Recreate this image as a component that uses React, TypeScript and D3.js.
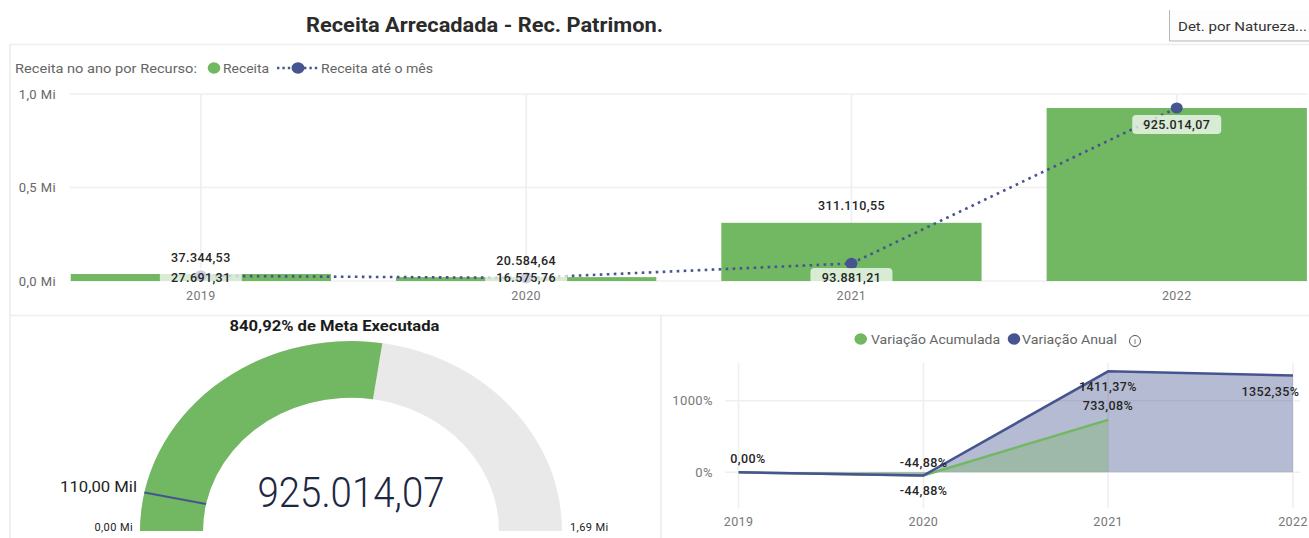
import React from "react";
import * as d3 from "d3";

const years = ["2019", "2020", "2021", "2022"];
const receita = [37344.53, 20584.64, 311110.55, 925014.07];
const receitaAteMes = [27691.31, 16575.76, 93881.21, 925014.07];
const receitaLabels = ["37.344,53", "20.584,64", "311.110,55", ""];
const ateMesLabels = ["27.691,31", "16.575,76", "93.881,21", "925.014,07"];
const topTicks = [0, 500000, 1000000];
const topTickLabels = ["0,0 Mi", "0,5 Mi", "1,0 Mi"];

const gaugeValue = 925014.07;
const gaugeTarget = 110000;
const gaugeMax = 1690000;

const variacaoAnual = [0, -44.88, 1411.37, 1352.35];
const variacaoAcumulada: (number | null)[] = [0, -44.88, 733.08, null];
const varTicks = [0, 1000];
const varTickLabels = ["0%", "1000%"];

const GREEN = "#72B762";
const BLUE = "#46558F";
const GRID = "#EFEFEF";
const FONT = "Roboto, 'Noto Sans', sans-serif";

const Label = ({ x, y, children, size = 12.5, anchor = "middle", fill = "#252525", weight = 500, ls = 0.4, len }: any) => (
  <text
    x={x}
    y={y}
    fontSize={size}
    textAnchor={anchor}
    dominantBaseline="central"
    fill={fill}
    fontWeight={weight}
    letterSpacing={len ? undefined : ls}
    textLength={len}
    lengthAdjust={len ? "spacingAndGlyphs" : undefined}
  >
    {children}
  </text>
);

export default function App() {
  // top chart
  const xBand = d3.scaleBand<string>().domain(years).range([38.2, 1339.4]).paddingInner(0.2).paddingOuter(0.1);
  const yTop = d3.scaleLinear().domain([0, 1000000]).range([281, 94]);
  const cx = (y: string) => xBand(y)! + xBand.bandwidth() / 2;
  const linePath = d3.line<number>().x((_, i) => cx(years[i])).y((d) => yTop(d))(receitaAteMes)!;

  // gauge
  const gaugeAngle = d3.scaleLinear().domain([0, gaugeMax]).range([-Math.PI / 2, Math.PI / 2]);
  const arc = d3.arc().innerRadius(148).outerRadius(211);
  const bgArc = arc({ startAngle: -Math.PI / 2, endAngle: Math.PI / 2 } as any)!;
  const valArc = arc({ startAngle: -Math.PI / 2, endAngle: gaugeAngle(gaugeValue) } as any)!;
  const ta = gaugeAngle(gaugeTarget);

  // variation chart
  const xVar = d3.scalePoint<string>().domain(years).range([738.6, 1293]);
  const yVar = d3.scaleLinear().domain([0, 1000]).range([472.3, 400.7]);
  const areaOf = (vals: (number | null)[]) =>
    d3.area<number | null>().defined((d) => d !== null).x((_, i) => xVar(years[i])!).y0(yVar(0)).y1((d) => yVar(d as number))(vals)!;
  const lineOf = (vals: (number | null)[]) =>
    d3.line<number | null>().defined((d) => d !== null).x((_, i) => xVar(years[i])!).y((d) => yVar(d as number))(vals)!;

  return (
    <svg width={1309} height={538} fontFamily={FONT} style={{ position: "absolute", left: 0, top: 0, display: "block", background: "#fff" }}>
      {/* title and button */}
      <text x={306} y={25} fontSize={19.5} fontWeight={700} fill="#2b2b2b" dominantBaseline="central" textLength={357} lengthAdjust="spacingAndGlyphs">
        Receita Arrecadada - Rec. Patrimon.
      </text>
      <rect x={1169.5} y={10} width={140} height={31} fill="#FDFDFD" />
      <path d="M1169.5 10V41H1309" fill="none" stroke="#B5B5B5" strokeWidth={1} />
      <Label x={1178} y={26} size={13.5} anchor="start" weight={400} fill="#333" len={129}>Det. por Natureza...</Label>

      {/* panel borders */}
      <path d="M10 44.5H1309M10 44.5V538M10 315.5H1309M661 315.5V538" fill="none" stroke="#EDEDED" strokeWidth={1.6} />

      {/* top legend */}
      <Label x={15} y={68.5} size={13} anchor="start" weight={400} fill="#666" len={182}>Receita no ano por Recurso:</Label>
      <ellipse cx={214} cy={68} rx={6.3} ry={5.8} fill={GREEN} />
      <Label x={223} y={68.5} size={13} anchor="start" weight={400} fill="#666" len={46}>Receita</Label>
      <line x1={277} x2={318} y1={68} y2={68} stroke={BLUE} strokeWidth={2.4} strokeDasharray="2.4 3" />
      <ellipse cx={298} cy={68} rx={6.5} ry={5.8} fill={BLUE} />
      <Label x={321} y={68.5} size={13} anchor="start" weight={400} fill="#666" len={112}>Receita até o mês</Label>

      {/* top chart grid */}
      {topTicks.map((t, i) => (
        <g key={t}>
          <line x1={70} x2={1308} y1={yTop(t)} y2={yTop(t)} stroke={GRID} strokeWidth={1.6} />
          <Label x={56} y={yTop(t)} anchor="end" weight={400} fill="#666" size={13}>{topTickLabels[i]}</Label>
        </g>
      ))}
      {years.map((y) => (
        <line key={y} x1={cx(y)} x2={cx(y)} y1={94} y2={281} stroke={GRID} strokeWidth={1.6} />
      ))}

      {/* bars */}
      {years.map((y, i) => (
        <rect key={y} x={xBand(y)} y={yTop(receita[i])} width={xBand.bandwidth()} height={yTop(0) - yTop(receita[i])} fill={GREEN} />
      ))}

      {/* dotted line and markers */}
      <path d={linePath} fill="none" stroke={BLUE} strokeWidth={2.6} strokeDasharray="2.6 4.4" />
      {years.map((y, i) => (
        <ellipse key={y} cx={cx(y)} cy={yTop(receitaAteMes[i])} rx={6} ry={5.6} fill={BLUE} />
      ))}

      {/* data labels */}
      {years.map((y, i) => {
        const inBar = i === 3;
        const ly = inBar ? yTop(receitaAteMes[i]) + 16.5 : 277.5;
        const w = inBar ? 89 : 82;
        return (
          <g key={y}>
            <rect x={cx(y) - w / 2} y={ly - 9.5} width={w} height={19} rx={4} fill="#fff" fillOpacity={0.72} />
            <Label x={cx(y)} y={ly}>{ateMesLabels[i]}</Label>
          </g>
        );
      })}
      {years.map((y, i) =>
        receitaLabels[i] ? (
          <Label key={y} x={cx(y)} y={yTop(receita[i]) - 17}>{receitaLabels[i]}</Label>
        ) : null
      )}
      {years.map((y) => (
        <Label key={y} x={cx(y)} y={295.5} weight={400} fill="#777">{y}</Label>
      ))}

      {/* gauge */}
      <Label x={334.5} y={326} size={14.5} weight={700} fill="#1c1c1c" len={210}>840,92% de Meta Executada</Label>
      <g transform="translate(351,531) scale(1,0.9)">
        <path d={bgArc} fill="#E9E9E9" />
        <path d={valArc} fill={GREEN} />
        <line
          x1={148 * Math.sin(ta)}
          y1={-148 * Math.cos(ta)}
          x2={211 * Math.sin(ta)}
          y2={-211 * Math.cos(ta)}
          stroke={BLUE}
          strokeWidth={2.4}
        />
      </g>
      <text x={351} y={492} fontSize={43} fontWeight={300} fill="#1D2740" textAnchor="middle" dominantBaseline="central" textLength={187} lengthAdjust="spacingAndGlyphs">
        925.014,07
      </text>
      <Label x={137} y={487} size={14.5} anchor="end" weight={400} fill="#222" len={77}>110,00 Mil</Label>
      <Label x={133} y={527} size={11} anchor="end" weight={400} fill="#222">0,00 Mi</Label>
      <Label x={570} y={527} size={11} anchor="start" weight={400} fill="#222">1,69 Mi</Label>

      {/* variation legend */}
      <ellipse cx={860.7} cy={339} rx={6.3} ry={5.8} fill={GREEN} />
      <Label x={871} y={339.5} size={13} anchor="start" weight={400} fill="#666" len={129}>Variação Acumulada</Label>
      <ellipse cx={1014} cy={339} rx={6.3} ry={5.8} fill={BLUE} />
      <Label x={1022} y={339.5} size={13} anchor="start" weight={400} fill="#666" len={95}>Variação Anual</Label>
      <circle cx={1135} cy={341} r={5.5} fill="none" stroke="#555" strokeWidth={1} />
      <Label x={1135} y={341} size={8} weight={400} fill="#555" ls={0}>i</Label>

      {/* variation grid */}
      {varTicks.map((t, i) => (
        <g key={t}>
          <line x1={725} x2={1300} y1={yVar(t)} y2={yVar(t)} stroke={GRID} strokeWidth={1.6} />
          <Label x={713} y={yVar(t)} size={13} anchor="end" weight={400} fill="#777">{varTickLabels[i]}</Label>
        </g>
      ))}
      {years.map((y) => (
        <g key={y}>
          <line x1={xVar(y)} x2={xVar(y)} y1={363} y2={508} stroke={GRID} strokeWidth={1.6} />
          <Label x={xVar(y)} y={521} weight={400} fill="#777">{y}</Label>
        </g>
      ))}

      {/* variation areas */}
      <path d={areaOf(variacaoAnual)} fill={BLUE} fillOpacity={0.4} />
      <path d={areaOf(variacaoAcumulada)} fill={GREEN} fillOpacity={0.35} />
      <path d={lineOf(variacaoAcumulada)} fill="none" stroke={GREEN} strokeWidth={2.4} />
      <path d={lineOf(variacaoAnual)} fill="none" stroke={BLUE} strokeWidth={2.6} />

      <Label x={748} y={458.7}>0,00%</Label>
      <Label x={923.6} y={462}>-44,88%</Label>
      <Label x={923.6} y={490.5}>-44,88%</Label>
      <Label x={1108} y={386}>1411,37%</Label>
      <Label x={1108} y={405.5}>733,08%</Label>
      <Label x={1270.5} y={391}>1352,35%</Label>
    </svg>
  );
}
